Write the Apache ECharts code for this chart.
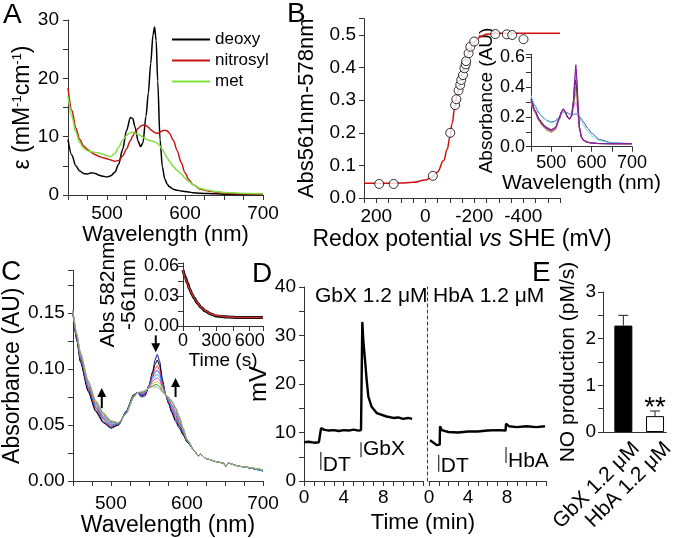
<!DOCTYPE html>
<html><head><meta charset="utf-8">
<script src="https://cdn.jsdelivr.net/npm/echarts@6/dist/echarts.min.js"></script>
<style>html,body{margin:0;padding:0;background:#fff;}#c{width:677px;height:538px;}</style>
</head><body><div id="c"></div>
<script>
// ---------------- DATA ----------------
// Panel A: extinction spectra (mM-1 cm-1)
const aWl = [450,455,460,465,470,475,480,485,490,495,500,505,510,515,520,525,530,533,536,540,543,546,550,553,556,559,561,563,565,568,571,574,577,580,585,590,595,600,605,610,620,630,640,650,670,700];
const aDeoxy = [9.5,6.8,5.0,4.1,3.7,3.6,3.8,3.7,3.4,3.2,3.1,3.3,3.9,5.3,7.8,11.0,13.3,13.1,11.6,9.2,8.3,8.9,13.5,17.5,22.5,27.5,28.8,26.5,19.5,9.5,4.8,2.8,1.9,1.4,1.0,0.8,0.7,0.6,0.5,0.4,0.3,0.25,0.2,0.15,0.1,0.1];
const aNitrosyl = [18.3,14.5,11.5,9.5,8.4,7.8,7.3,6.9,6.6,6.4,6.2,6.0,5.8,5.9,6.7,7.9,9.3,10.1,10.8,11.4,11.8,12.0,11.9,11.6,11.2,10.9,10.7,10.6,10.6,10.8,11.0,11.1,11.0,10.6,9.4,7.6,5.6,3.8,2.6,1.8,1.0,0.7,0.5,0.35,0.2,0.15];
const aMet = [17.0,13.5,10.8,9.0,8.0,7.6,7.4,7.3,7.2,7.0,6.7,6.6,7.1,8.2,9.4,10.2,10.7,10.7,10.6,10.4,10.2,9.9,9.6,9.4,9.3,9.2,9.1,9.0,8.8,8.4,7.8,7.1,6.4,5.8,4.9,4.2,3.6,2.9,2.3,1.8,1.1,0.8,0.6,0.45,0.3,0.2];
const aNames = ['deoxy','nitrosyl','met'];

// Panel B: redox titration
const bPtsX = [188,129,-31,-102,-122,-127,-136,-143,-147,-154,-160,-165,-167,-177,-184,-200,-286,-333,-355,-401];
const bPtsY = [0.043,0.043,0.068,0.200,0.285,0.303,0.330,0.347,0.362,0.377,0.398,0.410,0.420,0.444,0.464,0.480,0.503,0.502,0.500,0.487];
const bFitX = [250,200,150,100,50,0,-25,-50,-75,-90,-100,-110,-120,-130,-140,-150,-160,-170,-180,-200,-225,-250,-300,-400,-550];
const bFitY = [0.045,0.045,0.045,0.046,0.048,0.055,0.063,0.080,0.115,0.150,0.185,0.230,0.275,0.315,0.350,0.385,0.412,0.435,0.452,0.478,0.495,0.502,0.505,0.505,0.505];
// Panel B inset: spectra during titration
const bWl = [450,460,470,480,490,500,510,520,525,530,535,540,545,550,555,558,561,564,567,570,575,580,590,600,620,650,700];
const bOx   = [0.330,0.270,0.225,0.195,0.175,0.165,0.172,0.200,0.218,0.230,0.233,0.228,0.220,0.215,0.215,0.218,0.220,0.218,0.212,0.203,0.185,0.165,0.125,0.090,0.048,0.026,0.020];
const bCyan = [0.345,0.280,0.230,0.195,0.172,0.160,0.168,0.198,0.218,0.232,0.233,0.225,0.215,0.212,0.215,0.220,0.225,0.218,0.205,0.190,0.168,0.145,0.105,0.072,0.040,0.024,0.020];
const bKhaki= [0.295,0.225,0.170,0.133,0.108,0.095,0.110,0.178,0.225,0.245,0.228,0.198,0.187,0.198,0.262,0.320,0.360,0.305,0.200,0.112,0.060,0.040,0.028,0.023,0.020,0.020,0.020];
const bBrown= [0.300,0.230,0.175,0.138,0.112,0.100,0.115,0.182,0.228,0.248,0.230,0.198,0.186,0.200,0.275,0.350,0.400,0.335,0.215,0.118,0.062,0.041,0.029,0.024,0.021,0.020,0.020];
const bPink = [0.305,0.235,0.180,0.145,0.120,0.108,0.120,0.185,0.228,0.245,0.230,0.205,0.195,0.205,0.250,0.285,0.300,0.270,0.195,0.120,0.068,0.045,0.030,0.024,0.021,0.020,0.020];
const bBlack= [0.320,0.245,0.188,0.152,0.128,0.115,0.128,0.190,0.232,0.250,0.232,0.200,0.188,0.205,0.290,0.390,0.450,0.370,0.230,0.125,0.066,0.044,0.031,0.025,0.021,0.020,0.020];
const bMag  = [0.315,0.235,0.178,0.142,0.120,0.108,0.123,0.188,0.232,0.252,0.233,0.198,0.183,0.202,0.300,0.430,0.520,0.420,0.250,0.125,0.062,0.040,0.029,0.024,0.021,0.020,0.020];
const bPurp = [0.320,0.240,0.180,0.145,0.122,0.110,0.125,0.190,0.235,0.255,0.235,0.200,0.185,0.205,0.310,0.450,0.550,0.440,0.260,0.130,0.065,0.042,0.030,0.025,0.021,0.020,0.020];

// Panel C: time-resolved spectra
const cWl = [450,455,460,470,480,490,500,510,520,530,535,540,545,550,555,558,561,564,568,572,576,580,585,590,595,600,610,615,618,625,640,648,651,654,670,700];
const cS1 = [0.150,0.126,0.106,0.080,0.062,0.052,0.047,0.050,0.062,0.077,0.079,0.075,0.076,0.085,0.098,0.108,0.113,0.107,0.090,0.077,0.069,0.061,0.053,0.047,0.041,0.035,0.027,0.022,0.024,0.020,0.017,0.016,0.013,0.016,0.013,0.009];
const cS2 = [0.150,0.127,0.107,0.081,0.063,0.053,0.048,0.050,0.062,0.077,0.079,0.076,0.077,0.085,0.097,0.104,0.108,0.103,0.088,0.077,0.069,0.062,0.055,0.049,0.042,0.035,0.027,0.022,0.024,0.020,0.017,0.016,0.013,0.016,0.013,0.009];
const cS3 = [0.151,0.128,0.109,0.083,0.065,0.055,0.049,0.051,0.061,0.076,0.079,0.077,0.078,0.085,0.095,0.100,0.103,0.099,0.087,0.077,0.070,0.064,0.057,0.051,0.043,0.036,0.027,0.022,0.024,0.020,0.017,0.016,0.013,0.016,0.013,0.009];
const cS4 = [0.151,0.129,0.110,0.084,0.066,0.056,0.050,0.051,0.061,0.076,0.079,0.077,0.078,0.085,0.093,0.097,0.099,0.096,0.085,0.077,0.071,0.065,0.059,0.052,0.044,0.036,0.027,0.022,0.024,0.020,0.017,0.016,0.013,0.016,0.013,0.009];
const cS5 = [0.151,0.130,0.111,0.086,0.068,0.057,0.051,0.051,0.061,0.076,0.079,0.078,0.079,0.084,0.091,0.094,0.095,0.093,0.084,0.077,0.072,0.067,0.061,0.054,0.045,0.036,0.027,0.022,0.024,0.020,0.017,0.016,0.013,0.016,0.013,0.009];
const cS6 = [0.152,0.130,0.112,0.087,0.069,0.058,0.052,0.052,0.060,0.075,0.079,0.078,0.079,0.084,0.089,0.091,0.092,0.090,0.083,0.077,0.073,0.068,0.062,0.055,0.046,0.037,0.027,0.022,0.024,0.020,0.017,0.016,0.013,0.016,0.013,0.010];
const cS7 = [0.152,0.131,0.113,0.088,0.070,0.059,0.053,0.052,0.060,0.075,0.079,0.079,0.080,0.083,0.087,0.088,0.089,0.087,0.081,0.077,0.074,0.070,0.064,0.056,0.046,0.037,0.027,0.022,0.024,0.020,0.017,0.016,0.013,0.016,0.013,0.010];
const cS8 = [0.152,0.131,0.114,0.089,0.071,0.060,0.053,0.052,0.060,0.075,0.079,0.079,0.080,0.083,0.085,0.086,0.086,0.084,0.080,0.077,0.074,0.071,0.065,0.057,0.047,0.037,0.027,0.022,0.024,0.020,0.017,0.016,0.013,0.016,0.013,0.010];
const cS9 = [0.152,0.132,0.115,0.090,0.072,0.061,0.054,0.052,0.060,0.075,0.079,0.080,0.081,0.083,0.084,0.084,0.084,0.082,0.079,0.077,0.075,0.072,0.066,0.058,0.047,0.037,0.027,0.022,0.024,0.020,0.017,0.016,0.013,0.016,0.013,0.010];
// arrows: [wavelength, abs from, abs to]
const cArrows = [[488,0.065,0.083],[585,0.075,0.092],[559,0.130,0.115]];
// Panel C inset: kinetics
const cKinT = [0,20,40,60,80,100,130,160,200,250,300,400,500,600,720];
const cKinY = [0.056,0.049,0.043,0.037,0.032,0.028,0.023,0.019,0.015,0.012,0.010,0.009,0.0085,0.0085,0.0085];
const cFitY = [0.056,0.0485,0.0425,0.0370,0.0322,0.0282,0.0232,0.0192,0.0152,0.0122,0.0104,0.0090,0.0086,0.0085,0.0085];

// Panel D: NO electrode traces (time min, mV)
const dGbX = [[0,8.0],[0.5,8.1],[1.0,7.9],[1.5,8.0],[1.68,8.0],[1.72,10.9],[2.0,10.6],[2.5,10.4],[3.0,10.5],[3.5,10.3],[4.0,10.5],[4.5,10.4],[5.0,10.6],[5.5,10.4],[5.75,10.5],[5.88,32.8],[5.98,29.0],[6.15,25.0],[6.32,20.8],[6.49,17.4],[6.82,15.3],[7.33,14.0],[8.33,13.3],[9.0,13.0],[9.5,13.1],[10.0,12.8],[10.5,13.0],[10.9,12.8]];
const dHbA = [[0.1,8.4],[0.4,8.0],[0.79,7.4],[1.1,7.5],[1.13,11.3],[1.3,10.5],[2,10.1],[3,10.0],[4,10.2],[5,10.2],[6,10.4],[7,10.5],[7.85,10.4],[7.9,11.8],[8.2,11.3],[9,11.1],[10,11.3],[11,11.1],[11.9,11.3]];
// markers: [time, mV top, mV bottom, mV text]
const dMarksL = [[1.7,6.0,2.3,3.2],[5.75,8.0,4.9,6.5]];
const dLabelsL = ['DT','GbX'];
const dMarksR = [[1.0,5.4,1.9,3.0],[7.9,7.0,3.7,4.0]];
const dLabelsR = ['DT','HbA'];

// Panel E: NO production
const eCats = ['GbX 1.2 \u03bcM','HbA 1.2 \u03bcM'];
const eVals = [2.28,0.34];
const eErr = [0.22,0.11];

// ---------------- CHART ----------------
const FONT = "'Liberation Sans', Arial, Helvetica, sans-serif";
const AXC = '#333';
const zip = (xs, ys) => xs.map((x,i)=>[x, ys[i]]);
function mult(step, dec){ return function(v){ const r=v/step; return Math.abs(r-Math.round(r))<1e-6 ? Number(v).toFixed(dec) : ''; }; }
function ax(o){
  return {
    type:'value', gridIndex:o.g, min:o.min, max:o.max, interval:o.iv, inverse:!!o.inv,
    axisLine:{show:o.line!==false, onZero:false, lineStyle:{color:AXC,width:1,type:o.dash?[3,3]:'solid'}},
    axisTick:{show:o.tick!==false, inside:false, length:o.tl||5, lineStyle:{color:AXC,width:1}},
    splitLine:{show:false},
    axisLabel:{show:o.lab!==false, color:'#000', fontFamily:FONT, fontSize:o.fs||19, margin:o.m==null?8:o.m, formatter:o.fmt},
    name:o.name||'', nameLocation:'middle', nameGap:o.gap||0, nameRotate:o.rot||0,
    nameTextStyle:Object.assign({color:'#000', fontFamily:FONT, fontSize:o.nfs||22}, o.nts||{}),
    offset:o.off||0
  };
}
const dFmt = v => (Math.abs(v%4)<1e-6 && v<11.5) ? String(v) : '';

function line(xi, data, color, w, extra){
  return Object.assign({type:'line', xAxisIndex:xi, yAxisIndex:xi, data:data, showSymbol:false, symbol:'none',
    lineStyle:{color:color, width:w}, itemStyle:{color:color}, smooth:0.3, smoothMonotone:'x', silent:true}, extra||{});
}

const series = [];
// A
const aCols = ['#000000','#c81414','#80e040'];
[aDeoxy,aNitrosyl,aMet].forEach((arr,i)=>series.push(line(0, zip(aWl,arr), aCols[i], 1.5, {name:aNames[i]})));
// B
series.push(line(1, zip(bFitX,bFitY), '#d01010', 1.5, {smooth:0.4}));
series.push({type:'scatter', xAxisIndex:1, yAxisIndex:1, data:zip(bPtsX,bPtsY), symbol:'circle', symbolSize:9,
  itemStyle:{color:'#fff', borderColor:'#000', borderWidth:1}, z:5, silent:true});
// B inset
const bSet = [[bOx,'#2c4c9c'],[bCyan,'#70d8e0'],[bKhaki,'#c8b478'],[bBrown,'#9a7050'],[bPink,'#e088c8'],[bBlack,'#202020'],[bMag,'#d040d0'],[bPurp,'#7a1a9a']];
bSet.forEach(([arr,col])=>series.push(line(2, zip(bWl,arr), col, 1, {smooth:0.2})));
// C
const cCols = ['#000080','#000000','#ff2a2a','#2a48ff','#10b8e8','#e030e0','#e8c800','#20a030','#a8a8a8'];
[cS1,cS2,cS3,cS4,cS5,cS6,cS7,cS8,cS9].forEach((arr,i)=>series.push(line(3, zip(cWl,arr), cCols[i], 1, {smooth:0.2})));
series.push({type:'custom', xAxisIndex:3, yAxisIndex:3, data:cArrows, silent:true, z:10, clip:false,
  renderItem:function(params, api){
    const p0 = api.coord([api.value(0), api.value(1)]);
    const p1 = api.coord([api.value(0), api.value(2)]);
    const dir = p1[1] > p0[1] ? 1 : -1;
    const hx = p1[0], hy = p1[1];
    return {type:'group', children:[
      {type:'line', shape:{x1:p0[0], y1:p0[1], x2:hx, y2:hy - dir*7}, style:{stroke:'#000', lineWidth:2}},
      {type:'polygon', shape:{points:[[hx,hy],[hx-4.5,hy-dir*9],[hx+4.5,hy-dir*9]]}, style:{fill:'#000'}}
    ]};
  }});
// C inset
series.push(line(4, zip(cKinT,cKinY), '#000000', 3, {smooth:0.3}));
series.push(line(4, zip(cKinT,cFitY), '#c83030', 1.5, {smooth:0.3}));
// D
series.push(line(5, dGbX, '#000', 2.4, {smooth:false}));
series.push(line(6, dHbA, '#000', 2.4, {smooth:false}));
function markerSeries(xi, data, labels){
  return {type:'custom', xAxisIndex:xi, yAxisIndex:xi, data:data, silent:true, clip:false,
    renderItem:function(params, api){
      const t = api.coord([api.value(0), api.value(1)]);
      const b = api.coord([api.value(0), api.value(2)]);
      const tx = api.coord([api.value(0), api.value(3)]);
      return {type:'group', children:[
        {type:'line', shape:{x1:t[0], y1:t[1], x2:b[0], y2:b[1]}, style:{stroke:'#000', lineWidth:1}},
        {type:'text', style:{text:labels[params.dataIndex], x:t[0]+2, y:tx[1], fill:'#000', font:'21px '+FONT,
          textAlign:'left', textVerticalAlign:'middle', align:'left', verticalAlign:'middle'}}
      ]};
    }};
}
series.push(markerSeries(5, dMarksL, dLabelsL));
series.push(markerSeries(6, dMarksR, dLabelsR));
// E: an empty first bar slot shifts the bars right of the category centres, as in the original
const BAR_W = 18, BAR_GAP = -0.5;
const E_SHIFT = BAR_W*(1+BAR_GAP)/2;
series.push({type:'bar', xAxisIndex:7, yAxisIndex:7, barWidth:BAR_W, barGap:(BAR_GAP*100)+'%', silent:true, data:['-','-'], itemStyle:{color:'transparent'}});
series.push({type:'bar', xAxisIndex:7, yAxisIndex:7, barWidth:BAR_W, barGap:(BAR_GAP*100)+'%', silent:true,
  data:[{value:eVals[0], itemStyle:{color:'#000', borderColor:'#000', borderWidth:1}},
        {value:eVals[1], itemStyle:{color:'#fff', borderColor:'#000', borderWidth:1}}]});
series.push({type:'custom', xAxisIndex:7, yAxisIndex:7, silent:true, z:5, clip:false,
  data:eVals.map((v,i)=>[i, v, v+eErr[i]]),
  renderItem:function(params, api){
    const base = api.coord([api.value(0), api.value(1)]);
    const top = api.coord([api.value(0), api.value(2)]);
    const x = top[0] + E_SHIFT;
    const ch = [
      {type:'line', shape:{x1:x, y1:base[1], x2:x, y2:top[1]}, style:{stroke:'#222', lineWidth:1}},
      {type:'line', shape:{x1:x-5, y1:top[1], x2:x+5, y2:top[1]}, style:{stroke:'#222', lineWidth:1}}
    ];
    if (params.dataIndex === 1) {
      ch.push({type:'text', style:{text:'**', x:x, y:top[1]-3, fill:'#000', font:'28px '+FONT,
        textAlign:'center', textVerticalAlign:'middle', align:'center', verticalAlign:'middle'}});
    }
    return {type:'group', children:ch};
  }});

const rich = (fs) => ({n:{fontSize:fs, fontFamily:FONT, color:'#000'}, s:{fontSize:13, fontFamily:FONT, color:'#000', verticalAlign:'top'}, i:{fontSize:fs, fontFamily:FONT, color:'#000', fontStyle:'italic'}});

const option = {
  animation:false, backgroundColor:'#fff',
  grid:[
    {left:68, top:20, width:195, height:175},
    {left:364, top:18.7, width:196, height:179.3},
    {left:531, top:54.3, width:101, height:92.4},
    {left:68, top:270.4, width:195, height:210.6},
    {left:183, top:263, width:80, height:63},
    {left:304, top:287, width:119, height:194},
    {left:429, top:287, width:117, height:194},
    {left:603, top:292, width:65, height:140}
  ],
  legend:{data:aNames, left:167, top:26, orient:'vertical', itemWidth:38, itemHeight:2, itemGap:4, icon:'rect',
    textStyle:{fontSize:17, fontFamily:FONT, color:'#000'}, selectedMode:false},
  xAxis:[
    ax({g:0, min:450, max:700, iv:25, fmt:mult(100,0), m:9, name:'Wavelength (nm)', gap:22}),
    ax({g:1, min:-550, max:250, iv:50, inv:true, fmt:mult(200,0), m:9, name:'{n|Redox potential }{i|vs}{n| SHE (mV)}', gap:30, nts:{rich:rich(23)}}),
    ax({g:2, min:450, max:700, iv:50, fmt:mult(100,0), fs:18, m:7, name:'Wavelength (nm)', nfs:21, gap:26}),
    ax({g:3, min:450, max:700, iv:25, fmt:mult(100,0), m:13, name:'Wavelength (nm)', nfs:23, gap:33}),
    ax({g:4, min:0, max:720, iv:150, fmt:mult(300,0), fs:18, m:6, name:'Time (s)', nfs:19, gap:24}),
    ax({g:5, min:0, max:12, iv:1, fmt:dFmt, m:7}),
    ax({g:6, min:0, max:12, iv:1, fmt:dFmt, m:7}),
    {type:'category', gridIndex:7, data:eCats, axisLine:{onZero:false, lineStyle:{color:AXC}}, axisTick:{show:false},
     axisLabel:{interval:0, rotate:45, fontSize:21, fontFamily:FONT, color:'#000', margin:16, verticalAlign:'top', padding:[0,-14,0,0]}}
  ],
  yAxis:[
    ax({g:0, min:0, max:30, iv:5, fmt:mult(10,0), m:9, name:'{n|\u03b5 (mM}{s|-1}{n|cm}{s|-1}{n|)}', rot:90, gap:32, nts:{rich:rich(23)}}),
    ax({g:1, min:0, max:0.55, iv:0.1, fmt:mult(0.1,1), m:8, name:'Abs561nm-578nm', rot:90, gap:46}),
    ax({g:2, min:0, max:0.62, iv:0.1, fmt:mult(0.2,1), fs:18, m:6, name:'Absorbance (AU)', nfs:19, rot:90, gap:30}),
    ax({g:3, min:0, max:0.188, iv:0.025, fmt:mult(0.05,2), m:8, name:'Absorbance (AU)', nfs:23, rot:90, gap:45}),
    ax({g:4, min:0, max:0.063, iv:0.015, fmt:mult(0.03,2), fs:18, m:4, name:'Abs 582nm\n-561nm', nfs:21, rot:90, gap:42}),
    ax({g:5, min:0, max:40, iv:5, fmt:mult(10,0), m:8, name:'mV', nfs:24, rot:90, gap:26}),
    ax({g:6, min:0, max:40, iv:5, dash:true, tick:false, lab:false, off:2}),
    ax({g:7, min:0, max:3, iv:0.5, fmt:mult(1,0), m:7, name:'NO production (pM/s)', nfs:21, rot:90, gap:24})
  ],
  graphic:[
    {type:'text', x:3, y:15, style:{text:'A', font:'28px '+FONT, fill:'#000', textVerticalAlign:'middle', verticalAlign:'middle'}},
    {type:'text', x:287, y:14, style:{text:'B', font:'28px '+FONT, fill:'#000', textVerticalAlign:'middle', verticalAlign:'middle'}},
    {type:'text', x:1, y:272, style:{text:'C', font:'28px '+FONT, fill:'#000', textVerticalAlign:'middle', verticalAlign:'middle'}},
    {type:'text', x:252, y:274, style:{text:'D', font:'28px '+FONT, fill:'#000', textVerticalAlign:'middle', verticalAlign:'middle'}},
    {type:'text', x:532, y:273, style:{text:'E', font:'28px '+FONT, fill:'#000', textVerticalAlign:'middle', verticalAlign:'middle'}},
    {type:'text', x:315, y:296, style:{text:'GbX 1.2 \u03bcM', font:'21px '+FONT, fill:'#000', textVerticalAlign:'middle', verticalAlign:'middle'}},
    {type:'text', x:433, y:296, style:{text:'HbA 1.2 \u03bcM', font:'21px '+FONT, fill:'#000', textVerticalAlign:'middle', verticalAlign:'middle'}},
    {type:'text', x:423, y:523, style:{text:'Time (min)', font:'22px '+FONT, fill:'#000', textAlign:'center', align:'center', textVerticalAlign:'middle', verticalAlign:'middle'}}
  ],
  series:series
};
const chart = echarts.init(document.getElementById('c'), null, {renderer:'canvas'});
chart.setOption(option);
</script>
</body></html>
